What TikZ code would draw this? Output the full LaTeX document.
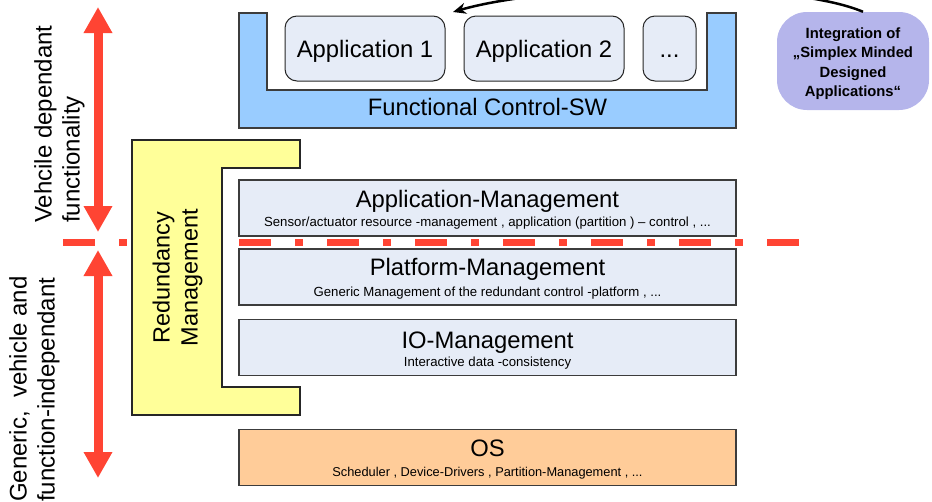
\documentclass[tikz,border=0pt]{standalone}
\usepackage{fontspec}
\setmainfont{Liberation Sans}
\usetikzlibrary{arrows.meta}

\definecolor{ctrlblue}{RGB}{153,204,255}
\definecolor{mgmtgrey}{RGB}{230,236,247}
\definecolor{redunyellow}{RGB}{255,255,153}
\definecolor{osorange}{RGB}{255,204,153}
\definecolor{integpurple}{RGB}{181,181,235}
\definecolor{splitred}{RGB}{255,68,51}
\definecolor{edge}{RGB}{60,60,60}

\tikzset{
  layerbox/.style={draw=edge, line width=1.2pt, minimum width=497pt, minimum height=56pt, inner sep=0pt},
  appbox/.style={draw=black!85, line width=1pt, fill=mgmtgrey, rounded corners=12pt, minimum height=65pt,
    inner sep=0pt, text height=17pt, text depth=0pt, font=\fontsize{23.8}{28}\selectfont},
  ttl/.style={anchor=base, inner sep=0pt, font=\fontsize{23.8}{28}\selectfont},
  subtxt/.style={anchor=base, inner sep=0pt, font=\fontsize{13.2}{15}\selectfont},
  sidetext/.style={rotate=90, inner sep=0pt, font=\fontsize{24}{28}\selectfont},
  spanarrow/.style={splitred, line width=9pt, {Triangle[width=27pt,length=26pt]}-{Triangle[width=27pt,length=26pt]}},
}

\begin{document}
\begin{tikzpicture}[x=1pt,y=-1pt]
  \useasboundingbox (0,0) rectangle (932,501);

  % split between vehicle dependant and generic part
  \coordinate (splitL) at (63,242.5);
  \coordinate (splitR) at (799,242.5);
  \draw[splitred, line width=7pt, dash pattern=on 32pt off 24pt on 8pt off 24pt] (splitL) -- (splitR);

  % ranges on the left
  \coordinate (uptop) at (98,7);
  \coordinate (upbot) at (98,232);
  \coordinate (lowtop) at (98,250);
  \coordinate (lowbot) at (98,478);
  \draw[spanarrow] (uptop) -- (upbot);
  \draw[spanarrow] (lowtop) -- (lowbot);
  \node[sidetext, anchor=west, align=left] (vehdep) at (59.5,223) {Vehcile dependant\\functionality};
  \node[sidetext, anchor=west, align=left] (generic) at (34.5,502) {Generic,~ vehicle and\\function-independant};

  % Functional control layer with the application slots
  \draw[draw=edge, line width=1.2pt, fill=ctrlblue] (239,13) -- (267,13) -- (267,90) -- (707,90)
    -- (707,13) -- (736,13) -- (736,128) -- (239,128) -- cycle;
  \node[ttl] (fctrl) at (487.5,115) {Functional Control-SW};
  \node[appbox, minimum width=160pt] (app1) at (365,48.5) {Application 1};
  \node[appbox, minimum width=160pt] (app2) at (544,48.5) {Application 2};
  \node[appbox, minimum width=53pt] (appmore) at (669.5,48.5) {...};

  % Redundancy management
  \draw[draw=black!85, line width=1.2pt, fill=redunyellow] (132,140) -- (300,140) -- (300,168) -- (222,168)
    -- (222,387) -- (300,387) -- (300,415) -- (132,415) -- cycle;
  \node[sidetext, align=center, font=\fontsize{23.5}{28}\selectfont] (redun) at (177.5,277.5) {Redundancy\\Management};

  % Management layers
  \node[layerbox, fill=mgmtgrey] (appmgmt) at (487.5,208) {};
  \node[ttl] (appmgmt-t) at (487.5,207) {Application-Management};
  \node[subtxt] (appmgmt-s) at (487.5,226) {Sensor/actuator resource -management , application (partition ) -- control , ...};

  \node[layerbox, fill=mgmtgrey] (platmgmt) at (487.5,277) {};
  \node[ttl] (platmgmt-t) at (487.5,275.5) {Platform-Management};
  \node[subtxt] (platmgmt-s) at (487.5,296.5) {Generic Management of the redundant control -platform , ...};

  \node[layerbox, fill=mgmtgrey] (iomgmt) at (487.5,347.5) {};
  \node[ttl] (iomgmt-t) at (487.5,348) {IO-Management};
  \node[subtxt] (iomgmt-s) at (487.5,366.5) {Interactive data -consistency};

  % OS
  \node[layerbox, fill=osorange] (os) at (487.5,457.5) {};
  \node[ttl] (os-t) at (487.5,456) {OS};
  \node[subtxt, font=\fontsize{12.8}{15}\selectfont] (os-s) at (487.5,476.5) {Scheduler , Device-Drivers , Partition-Management , ...};

  % Integration of further applications
  \node[fill=integpurple, rounded corners=30pt, minimum width=152pt, minimum height=98pt] (integ) at (853,61) {};
  \node[align=center, inner sep=0pt, font=\fontsize{14.8}{19.5}\selectfont\bfseries] (integ-t)
    at ([yshift=-2.5pt]integ.center) {Integration of\\„Simplex Minded\\Designed\\Applications“};
  \coordinate (appin) at (453,12);
  \draw[-{Stealth[length=13pt,width=11pt]}, line width=2.5pt] ([xshift=10pt]integ.north)
    .. controls (788,-20) and (553,-17) .. (appin);
\end{tikzpicture}
\end{document}
